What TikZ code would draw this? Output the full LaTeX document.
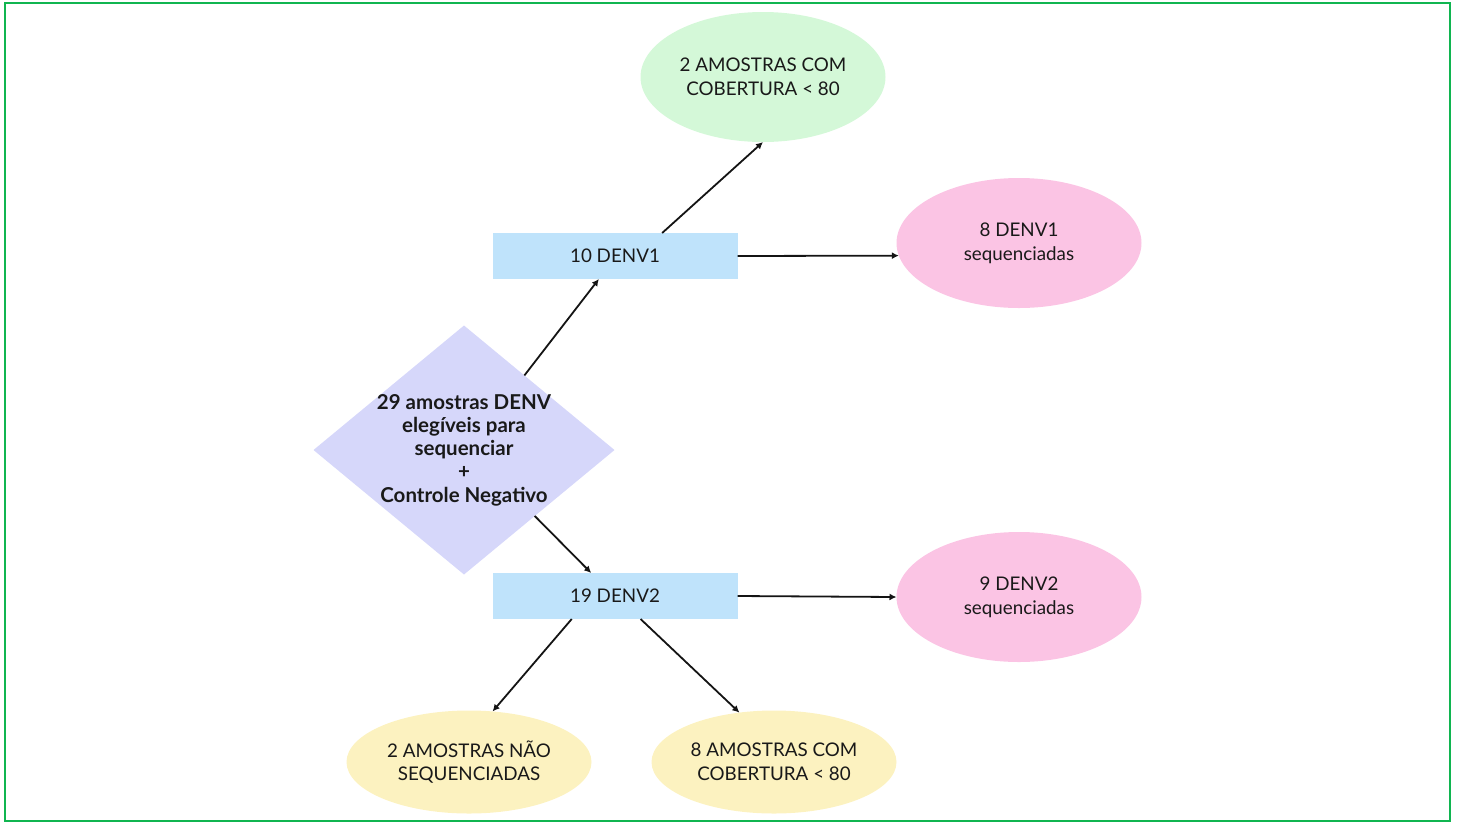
\documentclass[tikz,border=0pt]{standalone}
\usepackage{fontspec}
\setmainfont{Lato}
\usetikzlibrary{positioning,shapes.geometric,arrows.meta}
\definecolor{framegreen}{RGB}{16,181,80}
\definecolor{mint}{RGB}{212,248,216}
\definecolor{rosa}{RGB}{251,196,228}
\definecolor{azul}{RGB}{191,227,251}
\definecolor{lilas}{RGB}{214,215,250}
\definecolor{creme}{RGB}{252,242,192}
\tikzset{
  txt/.style={font=\fontsize{18.8}{23.8}\selectfont, align=center, text=black!90},
  oval/.style={ellipse, minimum width=245pt, minimum height=130pt, inner sep=0pt, outer sep=0pt, txt},
  caixa/.style={rectangle, fill=azul, minimum width=245pt, minimum height=46pt, inner sep=0pt, outer sep=0pt, txt},
  arr/.style={-{Latex[length=7pt,width=7pt]}, line width=1.8pt, black!92}
}
\begin{document}
\begin{tikzpicture}[x=1pt,y=-1pt]
            \useasboundingbox (0,0) rectangle (1460,823);
            \draw[framegreen, line width=2.6pt] (5,3) rectangle (1450,821);
            \node[diamond, fill=lilas, minimum width=301pt, minimum height=249pt, inner sep=0pt, outer sep=0pt](dia) at (464,450){};
            \node[txt, font=\fontsize{20.5}{23.3}\selectfont\bfseries](diatxt) at (dia){29 amostras DENV\\elegíveis para\\sequenciar\\+\\Controle Negativo};
            \node[caixa](r1) at (615,256){10 DENV1};
            \node[caixa](r2) at (615,596){19 DENV2};
            \node[oval, fill=mint](g) at (763,77){2 AMOSTRAS COM\\COBERTURA < 80};
            \node[oval, fill=rosa](p1) at (1019,243){8 DENV1\\sequenciadas};
            \node[oval, fill=rosa](p2) at (1019,597){9 DENV2\\sequenciadas};
            \node[oval, fill=creme, minimum height=103pt](y1) at (469,762){2 AMOSTRAS NÃO\\SEQUENCIADAS};
            \node[oval, fill=creme, minimum height=103pt](y2) at (774,762){8 AMOSTRAS COM\\COBERTURA < 80};
            \path (dia.51) edge[arr] (r1.235);
            \path (dia.317) edge[arr] (r2.136);
            \path (r1.26) edge[arr] (g.south);
            \path (r1.east) edge[arr] (p1.186);
            \path (r2.east) edge[arr] (p2.west);
            \path (r2.208) edge[arr] (y1.65);
            \path (r2.318) edge[arr] (y2.125);
            \end{tikzpicture}
\end{document}
